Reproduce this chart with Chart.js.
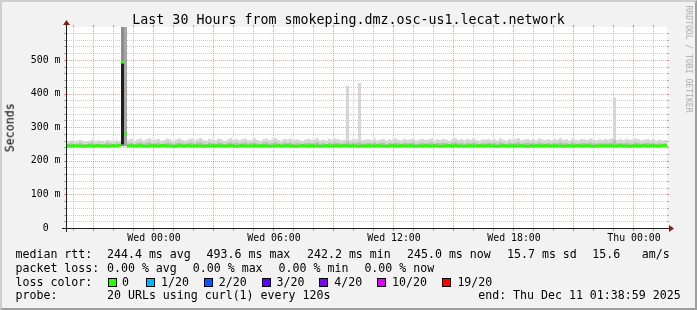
<!DOCTYPE html>
<html>
<head>
<meta charset="utf-8">
<title>smokeping</title>
<script src="https://cdn.jsdelivr.net/npm/chart.js@4.4.1/dist/chart.umd.min.js"></script>
<style>
html,body{margin:0;padding:0;background:#f2f2f2;overflow:hidden}
#wrap{position:relative;width:697px;height:310px;background:#f2f2f2;overflow:hidden}
#c{position:absolute;left:0;top:0}
.t{position:absolute;font-family:'DejaVu Sans Mono',monospace;white-space:pre;color:#000;line-height:1}
.lg{font-size:11.6px}
.box{position:absolute;width:7px;height:7px;border:1px solid #000}
#frame{position:absolute;left:0;top:0;width:697px;height:310px;box-sizing:border-box;border:2px solid;border-color:#cfcfcf #9e9e9e #9e9e9e #cfcfcf;pointer-events:none}
</style>
</head>
<body>
<div id="wrap">
<canvas id="c" width="697" height="310" style="width:697px;height:310px"></canvas>

<div class="t" style="left:0;width:697px;text-align:center;top:13px;font-size:13.3px">Last 30 Hours from smokeping.dmz.osc-us1.lecat.network</div>

<div class="t lg" style="left:-14.5px;top:121.5px;width:49px;text-align:center;transform:rotate(-90deg)">Seconds</div>
<div class="t" style="left:635px;top:55px;width:108px;text-align:center;font-size:8.1px;color:#ababab;transform:rotate(90deg)">RRDTOOL / TOBI OETIKER</div>

<div class="t lg" style="left:15.5px;top:248.7px">median rtt:</div>
<div class="t lg" style="left:107px;top:248.7px">244.4 ms avg</div>
<div class="t lg" style="left:206.6px;top:248.7px">493.6 ms max</div>
<div class="t lg" style="left:307px;top:248.7px">242.2 ms min</div>
<div class="t lg" style="left:407px;top:248.7px">245.0 ms now</div>
<div class="t lg" style="left:507px;top:248.7px">15.7 ms sd</div>
<div class="t lg" style="left:592.3px;top:248.7px">15.6</div>
<div class="t lg" style="left:641.7px;top:248.7px">am/s</div>

<div class="t lg" style="left:15.5px;top:262.7px">packet loss:</div>
<div class="t lg" style="left:107px;top:262.7px">0.00 % avg</div>
<div class="t lg" style="left:192.8px;top:262.7px">0.00 % max</div>
<div class="t lg" style="left:278.6px;top:262.7px">0.00 % min</div>
<div class="t lg" style="left:364.4px;top:262.7px">0.00 % now</div>

<div class="t lg" style="left:15.5px;top:276.7px">loss color:</div>
<div class="box" style="left:108px;top:278px;background:#26ff00"></div><div class="t lg" style="left:122px;top:276.7px">0</div>
<div class="box" style="left:146px;top:278px;background:#00b8ff"></div><div class="t lg" style="left:161px;top:276.7px">1/20</div>
<div class="box" style="left:203.8px;top:278px;background:#0059ff"></div><div class="t lg" style="left:218.8px;top:276.7px">2/20</div>
<div class="box" style="left:261.6px;top:278px;background:#5e00ff"></div><div class="t lg" style="left:276.6px;top:276.7px">3/20</div>
<div class="box" style="left:319.3px;top:278px;background:#7e00ff"></div><div class="t lg" style="left:334.3px;top:276.7px">4/20</div>
<div class="box" style="left:377px;top:278px;background:#dd00ff"></div><div class="t lg" style="left:392px;top:276.7px">10/20</div>
<div class="box" style="left:442.4px;top:278px;background:#ff0000"></div><div class="t lg" style="left:457.4px;top:276.7px">19/20</div>

<div class="t lg" style="left:15.5px;top:290.4px">probe:</div>
<div class="t lg" style="left:107px;top:290.4px">20 URLs using curl(1) every 120s</div>
<div class="t lg" style="left:478.2px;top:290.4px">end: Thu Dec 11 01:38:59 2025</div>

<div id="frame"></div>
</div>

<script>
// ---- time grid (hours relative to Wed 00:00); window = 30 h ending Thu 01:38:59 ----
const windowStartHour = -4.35;
const windowHours = 30;
const binHours = 0.15;   // one RRD consolidation step per sample

// ---- x axis tick labels ----
const xTickHours  = [0, 6, 12, 18, 24];
const xTickLabels = ['Wed 00:00', 'Wed 06:00', 'Wed 12:00', 'Wed 18:00', 'Thu 00:00'];

// ---- y axis tick labels (ms) ----
const yTickValues = [0, 100, 200, 300, 400, 500];
const yTickLabels = ['0  ', '100 m', '200 m', '300 m', '400 m', '500 m'];
const yMaxMs = 598;

// ---- median rtt per step (ms), 200 steps ----
const medianMs = [
 244,244,245,244,244,243,244,245,244,244,245,244,244,243,244,245,244,246,493.6,280,
 244,245,244,244,245,244,243,244,245,244,244,245,245,244,244,243,244,245,244,244,
 245,244,244,245,244,243,244,244,245,244,245,244,244,244,245,244,243,244,245,244,
 244,244,245,244,244,245,244,243,244,244,245,244,244,245,244,244,243,244,245,244,
 244,245,244,244,243,244,245,244,244,245,244,244,245,244,244,245,244,243,244,244,
 245,244,244,245,244,244,243,244,245,244,244,245,244,244,245,244,243,244,244,245,
 244,244,245,244,243,244,244,245,244,245,244,244,243,244,245,244,244,245,244,244,
 245,244,244,243,244,245,244,244,245,244,244,245,244,243,244,244,245,244,244,245,
 244,244,245,244,244,243,244,245,244,244,245,244,244,245,244,243,244,244,245,244,
 244,245,244,244,245,244,244,243,244,245,244,244,245,244,244,245,244,244,245,245
];

// ---- upper edge of the dense (darker) smoke per step (ms) ----
const smokeMidMs = [
 250,252,249,251,253,250,249,252,254,250,251,250,249,253,251,250,252,250,250,285,
 252,254,250,253,255,251,253,256,251,252,254,250,252,255,253,250,253,255,252,251,
 253,255,251,254,256,252,250,254,253,251,255,253,250,252,256,252,254,251,253,255,
 251,253,255,252,250,254,255,251,253,256,252,251,254,253,255,251,253,252,250,253,
 254,252,253,256,251,253,250,254,252,255,253,251,252,258,252,254,253,256,251,252,
 253,252,255,251,253,254,250,253,252,255,253,251,254,252,253,255,250,252,254,252,
 252,255,251,253,252,254,253,250,253,256,252,253,251,254,252,255,252,250,253,252,
 254,252,253,251,255,252,250,254,252,253,256,251,252,254,252,253,251,255,252,251,
 253,251,254,252,256,252,253,250,255,252,251,254,253,252,255,252,251,253,252,254,
 252,255,262,252,253,251,254,252,251,255,253,251,252,254,252,253,250,252,251,252
];

// ---- upper edge of the light smoke (slowest ping) per step (ms) ----
const smokeMaxMs = [
 258,261,257,260,262,259,256,260,263,258,261,259,257,262,260,258,261,259,620,620,
 262,265,259,263,266,260,264,267,261,263,265,260,262,266,263,259,264,267,262,260,
 263,266,261,264,268,262,260,265,263,261,266,264,259,263,267,262,265,261,264,266,
 261,263,267,262,259,264,266,261,263,268,262,260,265,263,266,261,264,262,259,263,
 265,262,264,267,261,263,260,265,262,266,264,261,263,423,262,265,264,432,261,263,
 264,262,266,261,263,265,260,264,262,267,263,261,265,262,264,266,260,263,265,262,
 263,266,261,264,262,265,263,260,264,267,262,264,261,265,263,266,262,260,264,263,
 265,262,264,261,266,263,260,265,262,264,267,261,263,265,262,264,261,266,263,262,
 264,261,265,263,267,262,264,260,266,263,261,265,264,262,266,263,261,264,262,265,
 263,266,388,262,264,261,265,263,262,266,264,261,263,265,262,264,260,263,261,262
];

// ---- sparse heavy / dark smoke during the spike: [step, low ms, high ms] ----
const heavySmoke = [[18, 243, 620], [19, 243, 620]];
const darkSmoke  = [[18, 249, 493.6]];

// ---- styles ----
const COL_LIGHT = '#d6d6d6', COL_MID = '#bdbdbd', COL_HEAVY = '#8c8c8c', COL_DARK = '#1e1e1e';
const COL_HEAVY_EDGE = '#a6a6a6';
const COL_MEDIAN = '#26ff00';
const MEDIAN_HALF_MS = 4.5;
const GRID_MINOR = 'rgba(143,143,143,0.45)', GRID_MAJOR = 'rgba(222,79,79,0.5)';
const TICK_MINOR = 'rgba(143,143,143,0.75)', TICK_MAJOR = 'rgba(222,79,79,0.7)';
const AXIS_COL = '#1f1f1f', ARROW_COL = '#801f1f';
const Y_MINOR_STEP = 20, Y_MAJOR_STEP = 100, X_MAJOR_HOURS = 3;

const stepTime = i => windowStartHour + binHours * (i + 0.5);
const bandFrom = (top) => top.map((v, i) => ({x: stepTime(i), y: [medianMs[i], v]}));
const sparse = list => list.map(([i, lo, hi]) => ({x: stepTime(i), y: [lo, hi]}));

const barCommon = {type: 'bar', grouped: false, barPercentage: 1, categoryPercentage: 1,
                   borderWidth: 0, inflateAmount: 0};

const smokeGrid = {
  id: 'smokeGrid',
  beforeDatasetsDraw(chart) {
    const {ctx, chartArea: a, scales: {x, y}} = chart;
    ctx.save();
    ctx.fillStyle = '#ffffff';
    ctx.fillRect(a.left, a.top, a.right - a.left, a.bottom - a.top);
    ctx.lineWidth = 1;
    ctx.setLineDash([1, 1]);
    for (let v = Y_MINOR_STEP; v < y.max; v += Y_MINOR_STEP) {
      const py = Math.round(y.getPixelForValue(v)) + 0.5;
      ctx.strokeStyle = (v % Y_MAJOR_STEP === 0) ? GRID_MAJOR : GRID_MINOR;
      ctx.beginPath(); ctx.moveTo(a.left, py); ctx.lineTo(a.right, py); ctx.stroke();
    }
    for (let h = Math.ceil(x.min); h <= x.max; h++) {
      const px = Math.round(x.getPixelForValue(h)) - 0.5;
      ctx.strokeStyle = (h % X_MAJOR_HOURS === 0) ? GRID_MAJOR : GRID_MINOR;
      ctx.beginPath(); ctx.moveTo(px, a.top); ctx.lineTo(px, a.bottom); ctx.stroke();
    }
    ctx.restore();
  },
  afterDatasetsDraw(chart) {
    const {ctx, chartArea: a, scales: {x, y}} = chart;
    ctx.save();
    for (let v = Y_MINOR_STEP; v < y.max; v += Y_MINOR_STEP) {
      const py = Math.round(y.getPixelForValue(v));
      ctx.fillStyle = (v % Y_MAJOR_STEP === 0) ? TICK_MAJOR : TICK_MINOR;
      ctx.fillRect(a.left - 3, py, 2, 1);
      ctx.fillRect(a.right, py, 2, 1);
    }
    for (let h = Math.ceil(x.min); h <= x.max; h++) {
      const px = Math.round(x.getPixelForValue(h)) - 1;
      ctx.fillStyle = (h % X_MAJOR_HOURS === 0) ? TICK_MAJOR : TICK_MINOR;
      ctx.fillRect(px, a.top - 2, 1, 2);
      ctx.fillRect(px, a.bottom + 1, 1, 2);
    }
    const ax = a.left - 1, ay = a.bottom;
    ctx.fillStyle = AXIS_COL;
    ctx.fillRect(ax - 4, ay, a.right - a.left + 9, 1);
    ctx.fillRect(ax, a.top - 4, 1, a.bottom - a.top + 8);
    ctx.fillStyle = ARROW_COL;
    ctx.beginPath();
    ctx.moveTo(ax + 0.5 - 3.5, a.top - 2); ctx.lineTo(ax + 0.5 + 3.5, a.top - 2); ctx.lineTo(ax + 0.5, a.top - 7);
    ctx.closePath(); ctx.fill();
    ctx.beginPath();
    ctx.moveTo(a.right + 2, ay + 0.5 - 3.5); ctx.lineTo(a.right + 2, ay + 0.5 + 3.5); ctx.lineTo(a.right + 7, ay + 0.5);
    ctx.closePath(); ctx.fill();
    ctx.restore();
  }
};

const tickFont = {family: "'DejaVu Sans Mono'", size: 9.9};

new Chart(document.getElementById('c'), {
  type: 'bar',
  data: {
    datasets: [
      {...barCommon, label: 'smoke', data: bandFrom(smokeMaxMs), backgroundColor: COL_LIGHT, order: 6},
      {...barCommon, label: 'smoke dense', data: bandFrom(smokeMidMs), backgroundColor: COL_MID, order: 5},
      {...barCommon, label: 'smoke heavy', data: sparse(heavySmoke),
       backgroundColor: [COL_HEAVY, COL_HEAVY_EDGE], order: 4},
      {...barCommon, label: 'smoke dark', data: sparse(darkSmoke), backgroundColor: COL_DARK, order: 3},
      {...barCommon, label: 'median rtt', backgroundColor: COL_MEDIAN, order: 1,
       data: medianMs.map((m, i) => ({x: stepTime(i), y: [m - MEDIAN_HALF_MS, m + MEDIAN_HALF_MS]}))}
    ]
  },
  options: {
    responsive: false,
    animation: false,
    devicePixelRatio: 1,
    events: [],
    layout: {padding: {left: 0, right: 30, top: 27, bottom: 0}},
    plugins: {legend: {display: false}, tooltip: {enabled: false}, title: {display: false}},
    scales: {
      x: {
        type: 'linear', min: windowStartHour, max: windowStartHour + windowHours, offset: false,
        grid: {display: false, drawTicks: false}, border: {display: false},
        afterBuildTicks: s => { s.ticks = xTickHours.map(v => ({value: v})); },
        afterFit: s => { s.height = 82; },
        ticks: {autoSkip: false, maxRotation: 0, minRotation: 0, padding: 4, color: '#000', font: tickFont,
                callback: v => xTickLabels[xTickHours.indexOf(v)] ?? ''}
      },
      y: {
        min: 0, max: yMaxMs,
        grid: {display: false, drawTicks: false}, border: {display: false},
        afterBuildTicks: s => { s.ticks = yTickValues.map(v => ({value: v})); },
        afterFit: s => { s.width = 67; },
        ticks: {autoSkip: false, padding: 6.5, color: '#000', font: tickFont,
                callback: v => yTickLabels[yTickValues.indexOf(v)] ?? ''}
      }
    }
  },
  plugins: [smokeGrid]
});
</script>
</body>
</html>
